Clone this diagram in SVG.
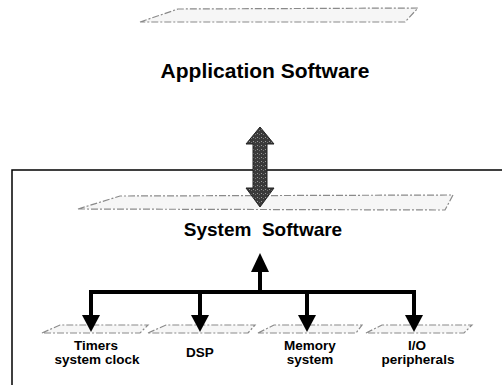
<svg xmlns="http://www.w3.org/2000/svg" width="502" height="385" viewBox="0 0 502 385">
<style>
.lbl{font-family:"Liberation Sans",Arial,sans-serif;font-weight:bold;fill:#000;text-anchor:middle}
.plane{fill:#f6f6f6;stroke:#8a8a8a;stroke-width:1.2;stroke-dasharray:7 2 2 2}
.frame{fill:none;stroke:#000;stroke-width:1.5}
.conn{fill:none;stroke:#000;stroke-width:4}
.head{fill:#000}
</style>
<defs>
<pattern id="stip" width="4" height="4" patternUnits="userSpaceOnUse">
<rect width="4" height="4" fill="#3a3a3a"/>
<rect x="1" y="1" width="1" height="1" fill="#9a9a9a"/>
<rect x="3" y="2" width="1" height="1" fill="#777"/>
</pattern>
</defs>
<rect width="502" height="385" fill="#fff"/>
<g id="frame"><path class="frame" d="M12,385 V170 H502"/></g>
<g id="app-layer">
<polygon class="plane" points="140,22 178,9 418,8 405,22"/>
<text class="lbl" x="265" y="78" font-size="21">Application Software</text>
</g>
<g id="sys-layer">
<polygon class="plane" points="78,209 120,196 453,195 445,210"/>
<text class="lbl" x="263" y="236" font-size="19" xml:space="preserve">System  Software</text>
</g>
<g id="timers">
<polygon class="plane" points="42,333 60,325 148,325 140,333"/>
<text class="lbl" x="96" y="350" font-size="13.5">Timers</text>
<text class="lbl" x="97" y="364" font-size="13.5">system clock</text>
</g>
<g id="dsp">
<polygon class="plane" points="148,333 166,325 255,325 248,333"/>
<text class="lbl" x="200" y="357" font-size="13.5">DSP</text>
</g>
<g id="memory">
<polygon class="plane" points="258,333 274,325 362,325 356,333"/>
<text class="lbl" x="310" y="350" font-size="13.5">Memory</text>
<text class="lbl" x="310" y="364" font-size="13.5">system</text>
</g>
<g id="io">
<polygon class="plane" points="366,333 382,325 472,325 464,333"/>
<text class="lbl" x="417" y="350" font-size="13.5">I/O</text>
<text class="lbl" x="418" y="364" font-size="13.5">peripherals</text>
</g>
<g id="connectors">
<polygon points="260,127 274,144 267,144 267,188 274,188 260,207 246,188 253,188 253,144 246,144" fill="url(#stip)" stroke="#222" stroke-width="1"/>
<path class="conn" d="M260,292 V270 M91,292 H416 M91,290 V316 M200,290 V316 M307,290 V316 M414,290 V316"/>
<polygon class="head" points="260,253 269,272 251,272"/>
<polygon class="head" points="82,315 100,315 91,332"/>
<polygon class="head" points="191,315 209,315 200,332"/>
<polygon class="head" points="298,315 316,315 307,332"/>
<polygon class="head" points="405,315 423,315 414,332"/>
</g>
</svg>
